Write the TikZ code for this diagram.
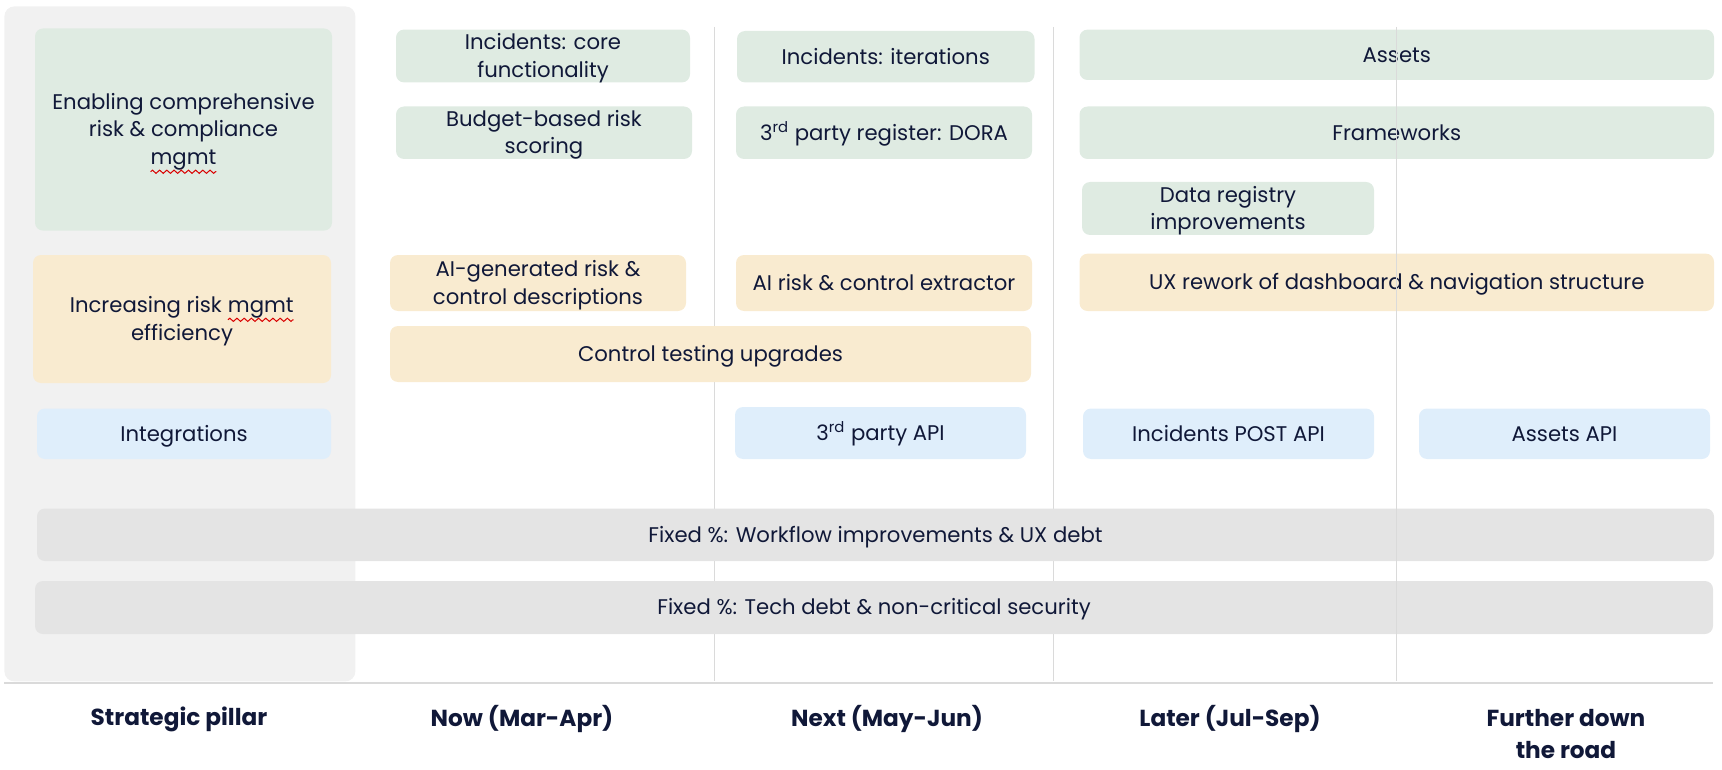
\documentclass[tikz,border=0pt]{standalone}
\usepackage{fontspec}
\setmainfont{Poppins}
\usetikzlibrary{decorations.pathmorphing}

\definecolor{ink}{RGB}{16,24,56}
\definecolor{greenfill}{RGB}{223,235,226}
\definecolor{yellowfill}{RGB}{249,235,208}
\definecolor{bluefill}{RGB}{223,238,251}
\definecolor{grayfill}{RGB}{228,228,228}
\definecolor{pillarfill}{RGB}{241,241,241}
\definecolor{rulegray}{RGB}{218,218,218}

% card: name, x1, y1, x2, y2, style, text  (coordinates in px)
\newcommand{\card}[7]{%
  \node[#6, minimum width={(#4-#2)*0.5pt}, minimum height={(#5-#3)*0.5pt}]
    (#1) at ({(#2+#4)/2},{(#3+#5)/2}) {#7};}

% word with a red wavy underline
\newcommand{\squig}[1]{%
  \tikz[baseline=(w.base), sharp corners]{%
    \node[inner sep=0pt, outer sep=0pt, fill=none, draw=none, minimum width=0pt,
      minimum height=0pt, text height=, text depth=] (w) {#1};
    \draw[red!85!black, line width=0.5pt, sharp corners, decorate,
      decoration={zigzag, segment length=3.6pt, amplitude=0.8pt}]
      ([yshift=-3.6pt]w.base west) -- ([yshift=-3.6pt]w.base east);}}

\newcommand{\cardfont}{\fontsize{10.6}{13.8}\selectfont}
\newcommand{\headfont}{\fontsize{11.6}{16}\selectfont\bfseries}

\begin{document}
\begin{tikzpicture}[x=0.5pt, y=-0.5pt,
  card/.style={rounded corners=4pt, inner sep=0pt, align=center, text=ink,
    font=\cardfont, text height=7.4pt, text depth=0pt},
  two lines/.style={text height=21.2pt},
  three lines/.style={text height=35pt},
  greencard/.style={card, fill=greenfill},
  yellowcard/.style={card, fill=yellowfill},
  bluecard/.style={card, fill=bluefill},
  graycard/.style={card, fill=grayfill},
  divider/.style={draw=rulegray, line width=0.5pt},
  colhead/.style={align=center, text=ink, font=\headfont, inner sep=0pt}]

\useasboundingbox (0,0) rectangle (1722,770);

% pillar column background
\node[fill=pillarfill, rounded corners=5pt, minimum width={351*0.5pt}, minimum height={675*0.5pt},
  inner sep=0pt, anchor=north west] (pillar) at (4,6) {};

% column dividers and base rule
\draw[divider] (714,27) -- (714,681);
\draw[divider] (1053,27) -- (1053,681);
\draw[draw=rulegray, line width=1pt] (4,683) -- (1713,683);

% strategic pillars
\card{pEnable}{35}{28.5}{332}{230.6}{greencard, three lines}{Enabling comprehensive\\risk \& compliance\\\squig{mgmt}}
\card{pEff}{33}{255}{331}{383}{yellowcard, two lines}{Increasing risk \squig{mgmt}\\efficiency}
\card{pInt}{37}{408.5}{331}{459}{bluecard}{Integrations}

% now
\card{nowA}{396}{29.6}{690}{82.4}{greencard, two lines}{Incidents: core\\functionality}
\card{nowB}{396}{106.5}{692}{159}{greencard, two lines}{Budget-based risk\\scoring}
\card{nowC}{390}{255}{686}{311}{yellowcard, two lines}{AI-generated risk \&\\control descriptions}
\card{ctrl}{390}{326}{1031}{382}{yellowcard}{Control testing upgrades}

% next
\card{nextA}{737}{31}{1034.5}{82.4}{greencard}{Incidents: iterations}
\card{nextB}{736}{106.5}{1032}{159}{greencard}{3\textsuperscript{rd} party register: DORA}
\card{nextC}{736}{255}{1032}{311}{yellowcard}{AI risk \& control extractor}
\card{nextD}{735}{407}{1026}{459}{bluecard}{3\textsuperscript{rd} party API}

% later
\card{assets}{1079.5}{29.6}{1714}{80}{greencard}{Assets}
\card{frame}{1079.5}{106.5}{1714}{159}{greencard}{Frameworks}
\card{datareg}{1082}{182}{1374}{235}{greencard, two lines}{Data registry\\improvements}
\card{uxrework}{1079.5}{253.7}{1714}{311}{yellowcard}{UX rework of dashboard \& navigation structure}
\card{incapi}{1083}{408.5}{1374}{459}{bluecard}{Incidents POST API}

% further down the road
\card{assetapi}{1419}{408.5}{1710}{459}{bluecard}{Assets API}

% fixed allocations
\card{fixedA}{37}{508.5}{1714}{561}{graycard}{Fixed \%: Workflow improvements \& UX debt}
\card{fixedB}{35}{581}{1713}{634}{graycard}{Fixed \%: Tech debt \& non-critical security}

% last divider runs over the cards
\draw[divider] (1396,27) -- (1396,681);

% column headings
\node[colhead] (hPillar) at (179,719) {Strategic pillar};
\node[colhead] (hNow) at (522,719) {Now (Mar-Apr)};
\node[colhead] (hNext) at (887,719) {Next (May-Jun)};
\node[colhead] (hLater) at (1230,719) {Later (Jul-Sep)};
\node[colhead, anchor=north] (hFurther) at (1566,709) {Further down\\the road};
\end{tikzpicture}
\end{document}
